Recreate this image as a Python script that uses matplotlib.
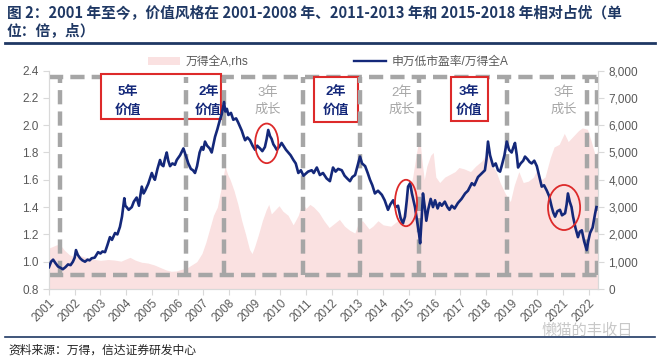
import matplotlib
matplotlib.use("Agg")
import matplotlib.pyplot as plt
import matplotlib.patches as patches
from matplotlib.lines import Line2D

plt.rcParams['font.family'] = ['Liberation Sans', 'Noto Sans CJK SC']

# 申万低市盈率/万得全A (left axis)
ratio_year = [2001.00, 2001.08, 2001.16, 2001.25, 2001.35, 2001.45, 2001.54, 2001.64, 2001.74, 2001.84,
              2001.93, 2002.00, 2002.05, 2002.12, 2002.21, 2002.30, 2002.40, 2002.50, 2002.58, 2002.66,
              2002.78, 2002.91, 2003.00, 2003.08, 2003.18, 2003.27, 2003.37, 2003.45, 2003.57, 2003.66,
              2003.76, 2003.84, 2003.93, 2003.97, 2004.02, 2004.10, 2004.22, 2004.30, 2004.41, 2004.50,
              2004.55, 2004.61, 2004.68, 2004.74, 2004.86, 2005.00, 2005.06, 2005.12, 2005.22, 2005.32,
              2005.38, 2005.45, 2005.52, 2005.58, 2005.64, 2005.71, 2005.80, 2005.90, 2005.97, 2006.10,
              2006.23, 2006.30, 2006.42, 2006.52, 2006.60, 2006.68, 2006.76, 2006.86, 2006.94, 2007.00,
              2007.07, 2007.15, 2007.25, 2007.33, 2007.40, 2007.46, 2007.55, 2007.65, 2007.72, 2007.81,
              2007.86, 2007.92, 2007.98, 2008.08, 2008.17, 2008.28, 2008.36, 2008.43, 2008.50, 2008.57,
              2008.63, 2008.72, 2008.82, 2008.92, 2009.02, 2009.10, 2009.21, 2009.30, 2009.40, 2009.47,
              2009.53, 2009.60, 2009.66, 2009.73, 2009.80, 2009.86, 2009.95, 2010.05, 2010.15, 2010.22,
              2010.31, 2010.40, 2010.51, 2010.60, 2010.70, 2010.80, 2010.90, 2010.96, 2011.08, 2011.22,
              2011.30, 2011.42, 2011.54, 2011.66, 2011.80, 2011.93, 2012.05, 2012.15, 2012.25, 2012.39,
              2012.50, 2012.60, 2012.71, 2012.80, 2012.91, 2013.00, 2013.10, 2013.18, 2013.30, 2013.40,
              2013.49, 2013.58, 2013.68, 2013.80, 2013.95, 2014.06, 2014.19, 2014.28, 2014.39, 2014.48,
              2014.58, 2014.68, 2014.77, 2014.85, 2014.92, 2014.97, 2015.05, 2015.12, 2015.24, 2015.32,
              2015.40, 2015.44, 2015.50, 2015.55, 2015.62, 2015.68, 2015.75, 2015.85, 2015.94, 2016.02,
              2016.12, 2016.20, 2016.28, 2016.40, 2016.50, 2016.58, 2016.67, 2016.78, 2016.91, 2017.05,
              2017.19, 2017.30, 2017.45, 2017.55, 2017.69, 2017.80, 2017.96, 2018.02, 2018.08, 2018.16,
              2018.28, 2018.38, 2018.47, 2018.55, 2018.61, 2018.72, 2018.81, 2018.90, 2019.00, 2019.07,
              2019.13, 2019.20, 2019.25, 2019.35, 2019.45, 2019.52, 2019.62, 2019.70, 2019.78, 2019.88,
              2019.98, 2020.08, 2020.17, 2020.26, 2020.37, 2020.46, 2020.56, 2020.62, 2020.69, 2020.78,
              2020.88, 2020.96, 2021.08, 2021.14, 2021.19, 2021.26, 2021.33, 2021.39, 2021.48, 2021.58,
              2021.65, 2021.73, 2021.82, 2021.92, 2021.98, 2022.05, 2022.15, 2022.25, 2022.30]
ratio_val = [0.96, 1.00, 1.015, 0.99, 0.965, 0.955, 0.945, 0.96, 0.98, 0.975,
             1.00, 1.03, 1.085, 1.05, 1.025, 1.01, 1.00, 1.015, 1.01, 1.025,
             1.03, 1.07, 1.06, 1.075, 1.07, 1.12, 1.18, 1.16, 1.21, 1.20,
             1.255, 1.33, 1.465, 1.41, 1.40, 1.38, 1.40, 1.44, 1.47, 1.41,
             1.48, 1.55, 1.50, 1.52, 1.57, 1.65, 1.62, 1.60, 1.68, 1.745,
             1.71, 1.70, 1.76, 1.80, 1.74, 1.70, 1.72, 1.71, 1.745, 1.78,
             1.83, 1.79, 1.72, 1.68, 1.67, 1.65, 1.70, 1.80, 1.84, 1.82,
             1.88, 1.85, 1.83, 1.80, 1.86, 1.915, 1.97, 2.04, 2.08, 2.17,
             2.10, 2.12, 2.075, 2.09, 2.04, 2.05, 2.02, 1.99, 1.96, 1.92,
             1.89, 1.91, 1.89, 1.85, 1.82, 1.85, 1.83, 1.81, 1.84, 1.90,
             1.965, 1.92, 1.90, 1.86, 1.84, 1.82, 1.84, 1.87, 1.84, 1.82,
             1.80, 1.78, 1.745, 1.72, 1.65, 1.67, 1.63, 1.64, 1.66, 1.67,
             1.65, 1.69, 1.635, 1.65, 1.61, 1.59, 1.69, 1.66, 1.68, 1.67,
             1.63, 1.61, 1.59, 1.62, 1.635, 1.70, 1.77, 1.72, 1.70, 1.65,
             1.60, 1.56, 1.50, 1.52, 1.49, 1.45, 1.38, 1.42, 1.45, 1.40,
             1.41, 1.32, 1.28, 1.33, 1.45, 1.55, 1.575, 1.50, 1.40, 1.30,
             1.20, 1.135, 1.32, 1.50, 1.40, 1.30, 1.38, 1.46, 1.40, 1.45,
             1.39, 1.43, 1.41, 1.44, 1.40, 1.38, 1.41, 1.39, 1.43, 1.46,
             1.50, 1.52, 1.575, 1.56, 1.62, 1.64, 1.67, 1.75, 1.88, 1.78,
             1.70, 1.72, 1.67, 1.66, 1.70, 1.78, 1.88, 1.82, 1.80, 1.84,
             1.87, 1.78, 1.69, 1.72, 1.74, 1.77, 1.75, 1.73, 1.72, 1.74,
             1.70, 1.62, 1.55, 1.56, 1.52, 1.48, 1.40, 1.36, 1.33, 1.37,
             1.38, 1.34, 1.355, 1.42, 1.50, 1.44, 1.40, 1.33, 1.25, 1.18,
             1.22, 1.23, 1.15, 1.085, 1.15, 1.21, 1.25, 1.355, 1.40]

# 万得全A (right axis)
wind_year = [2001.00, 2001.15, 2001.30, 2001.45, 2001.60, 2001.80, 2002.00, 2002.15, 2002.35, 2002.55,
             2002.80, 2003.00, 2003.30, 2003.55, 2003.80, 2004.00, 2004.15, 2004.35, 2004.60, 2004.85,
             2005.10, 2005.35, 2005.55, 2005.75, 2005.95, 2006.15, 2006.35, 2006.55, 2006.75, 2006.95,
             2007.10, 2007.25, 2007.40, 2007.55, 2007.70, 2007.85, 2007.95, 2008.05, 2008.20, 2008.35,
             2008.50, 2008.65, 2008.80, 2008.90, 2009.00, 2009.15, 2009.30, 2009.45, 2009.55, 2009.65,
             2009.80, 2009.95, 2010.10, 2010.30, 2010.50, 2010.70, 2010.85, 2011.00, 2011.15, 2011.30,
             2011.50, 2011.70, 2011.90, 2012.10, 2012.30, 2012.50, 2012.70, 2012.90, 2013.05, 2013.20,
             2013.45, 2013.60, 2013.80, 2014.00, 2014.30, 2014.50, 2014.70, 2014.85, 2015.00, 2015.15,
             2015.30, 2015.42, 2015.50, 2015.60, 2015.70, 2015.85, 2015.95, 2016.05, 2016.20, 2016.40,
             2016.60, 2016.80, 2016.95, 2017.15, 2017.40, 2017.60, 2017.85, 2018.05, 2018.20, 2018.40,
             2018.55, 2018.75, 2018.95, 2019.10, 2019.28, 2019.45, 2019.65, 2019.85, 2020.00, 2020.15,
             2020.30, 2020.50, 2020.65, 2020.85, 2021.05, 2021.20, 2021.40, 2021.60, 2021.75, 2021.95,
             2022.10, 2022.25, 2022.35]
wind_val = [1500, 1560, 1620, 1600, 1420, 1250, 1180, 1240, 1180, 1120,
            1080, 1050, 1080, 1060, 1020, 1100, 1160, 1060, 980, 950,
            880, 780, 700, 650, 660, 720, 760, 880, 1000, 1300,
            1700, 2200, 2700, 3000, 3700, 4500, 4200, 4000, 3600, 3100,
            2500, 2000, 1450, 1300, 1550, 2000, 2500, 2900, 3100, 2750,
            2900, 3050, 2850, 2700, 2350, 2700, 3150, 2950, 3100, 3000,
            2800, 2500, 2250, 2400, 2550, 2300, 2150, 2050, 2450, 2500,
            2200, 2300, 2500, 2350, 2300, 2450, 2600, 3000, 3500, 4100,
            5000, 5600, 4800, 4000, 4500, 4900, 5000, 4100, 3900, 4100,
            4200, 4300, 4450, 4400, 4300, 4500, 4700, 5000, 4600, 4300,
            3900, 3500, 3200, 3800, 4300, 3900, 3950, 4100, 4400, 4000,
            4100, 4800, 5200, 5300, 5700, 5400, 5600, 5800, 5900, 5850,
            5400, 4900, 5050]

tick_years = list(range(2001, 2023))
left_ticks = [0.8, 1.0, 1.2, 1.4, 1.6, 1.8, 2.0, 2.2, 2.4]
right_ticks = list(range(0, 8001, 1000))

# regime boundaries (grey dashed frame)
split_years = [2001.43, 2006.32, 2007.82, 2010.9, 2013.1, 2015.4, 2018.8, 2021.92, 2022.32]
frame_low, frame_high = 0.9, 2.355

value_labels = [(2004.07, "5年", "价值"), (2007.2, "2年", "价值"),
                (2012.17, "2年", "价值"), (2017.35, "3年", "价值")]
growth_labels = [(2009.52, "3年", "成长"), (2014.73, "2年", "成长"), (2021.04, "3年", "成长")]
red_boxes = [(2003.02, 2007.69, 2.045, 2.375), (2011.31, 2013.02, 2.023, 2.353),
             (2016.63, 2018.08, 2.03, 2.353)]
circles = [(2009.47, 1.867, 0.9, 0.29), (2014.89, 1.43, 0.86, 0.34), (2021.04, 1.397, 1.25, 0.33)]

navy = "#14287a"
grey_txt = "#595959"
dash_col = "#a6a6a6"
pink = "#fae1e1"
red = "#dd2a2a"

fig = plt.figure(figsize=(6.6, 3.59), dpi=100)
ax = fig.add_axes([49/660, 1-289/359, (598-49)/660, (289-70.6)/359])
ax2 = ax.twinx()
ax.set_zorder(ax2.get_zorder() + 1)
ax.patch.set_visible(False)

ax2.fill_between(wind_year, wind_val, 0, color=pink, lw=0, label="万得全A,rhs")
ax2.set_ylim(0, 8000)
ax2.set_yticks(right_ticks)
ax2.set_yticklabels([f"{v:,}" for v in right_ticks])

ax.plot(ratio_year, ratio_val, color=navy, lw=1.9, zorder=6, label="申万低市盈率/万得全A")
ax.set_ylim(0.8, 2.4)
ax.set_xlim(2001.0, 2022.36)
ax.set_yticks(left_ticks)
ax.set_yticklabels([f"{v:.1f}" for v in left_ticks])
ax.set_xticks(tick_years)
ax.set_xticklabels([str(y) for y in tick_years], rotation=45, ha='right',
                   rotation_mode='anchor')

for a in (ax, ax2):
    for s in a.spines.values():
        s.set_color("#d9d9d9")
    a.spines['top'].set_visible(False)
    a.tick_params(colors="#d9d9d9", labelcolor=grey_txt, labelsize=8.5, length=4)
ax.tick_params(axis='x', pad=2)

# dashed frame
dash_kw = dict(color=dash_col, lw=3.2, dashes=(3.2, 1.6), solid_capstyle='butt')
ax.plot([2001.0, 2022.36], [frame_high, frame_high], zorder=2, **dash_kw)
ax.plot([2001.0, 2022.36], [frame_low, frame_low], zorder=2, **dash_kw)
for xv in split_years:
    ax.plot([xv, xv], [frame_low, frame_high], zorder=4, **dash_kw)

for x0, x1, y0, y1 in red_boxes:
    ax.add_patch(patches.Rectangle((x0, y0), x1 - x0, y1 - y0, facecolor='white',
                                   edgecolor=red, lw=1.5, zorder=3))

for xv, t1, t2 in value_labels:
    ax.text(xv, 2.24, t1, ha='center', va='center', color=navy, fontsize=9.5,
            fontweight='bold', zorder=7, family=['Liberation Sans', 'Noto Sans CJK SC'])
    ax.text(xv, 2.115, t2, ha='center', va='center', color=navy, fontsize=9.5,
            fontweight='bold', zorder=7, family=['Noto Sans CJK SC'])
for xv, t1, t2 in growth_labels:
    ax.text(xv, 2.24, t1, ha='center', va='center', color=dash_col, fontsize=9.5, zorder=7)
    ax.text(xv, 2.115, t2, ha='center', va='center', color=dash_col, fontsize=9.5, zorder=7,
            family=['Noto Sans CJK SC'])

for xc, yc, w, h in circles:
    ax.add_patch(patches.Ellipse((xc, yc), w, h, fill=False, edgecolor=red, lw=1.3, zorder=7))

# legend
h1 = patches.Patch(facecolor=pink, edgecolor='none', label="万得全A,rhs")
h2 = Line2D([], [], color=navy, lw=1.7, label="申万低市盈率/万得全A")
fig.legend(handles=[h1, h2], loc='center left', bbox_to_anchor=(148/660, 1-62/359),
           ncol=2, frameon=False, fontsize=8.5, handlelength=2.7, columnspacing=9.0,
           handletextpad=0.45, borderpad=0, borderaxespad=0, labelcolor=grey_txt)

# title, separators, source
fig.text(7/660, 1-12/359, "图 2：2001 年至今，价值风格在 2001-2008 年、2011-2013 年和 2015-2018 年相对占优（单",
         family=['Noto Sans CJK SC'], fontsize=10.6, fontweight='bold', color="#1f3864",
         va='center', ha='left')
fig.text(7/660, 1-30/359, "位：倍，点）", family=['Noto Sans CJK SC'], fontsize=10.6,
         fontweight='bold', color="#1f3864", va='center', ha='left')
fig.add_artist(Line2D([5/660, 655/660], [1-42.7/359, 1-42.7/359], color="#1f3864", lw=2.0))
fig.add_artist(Line2D([5/660, 655/660], [1-336.7/359, 1-336.7/359], color="#1f3864", lw=1.2))
fig.text(8/660, 1-350/359, "资料来源：万得，信达证券研发中心", family=['Noto Sans CJK SC'],
         fontsize=8.5, style='italic', color="#222222", va='center', ha='left')
fig.text(541/660, 1-330/359, "懒猫的丰收日", family=['Noto Sans CJK SC'], fontsize=11,
         color="#c8c8c8", va='center', ha='left')

plt.savefig("out.png", dpi=100)
